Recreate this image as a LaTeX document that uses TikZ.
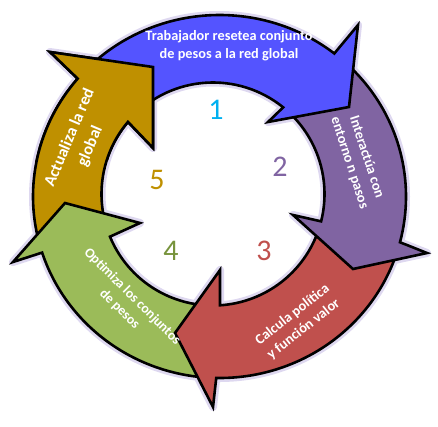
\documentclass[tikz,border=0pt]{standalone}
\usepackage{fontspec}
\setmainfont{Carlito}
\definecolor{cBlue}{RGB}{84,84,255}
\definecolor{cPurple}{RGB}{128,100,162}
\definecolor{cRed}{RGB}{192,80,77}
\definecolor{cGreen}{RGB}{155,187,89}
\definecolor{cGold}{RGB}{191,144,0}
\definecolor{cCyan}{RGB}{0,176,240}
\definecolor{cGreenD}{RGB}{119,147,60}
\definecolor{cGlow}{RGB}{222,216,240}
\newcommand\orx{186.5}
\newcommand\ory{181.5}
\newcommand\irr{111.5}
\newcommand\pathBlue{([shift={(O)}]136:\orx\space and \ory) arc[start angle=136, end angle=52, x radius=\orx, y radius=\ory] -- (358,-25) -- (349,-107) -- (268,-122) -- ([shift={(I)}]51:\irr) arc[start angle=51, end angle=136, radius=\irr] -- cycle}
\newcommand\pathPurple{([shift={(O)}]47:\orx\space and \ory) arc[start angle=47, end angle=-14.6, x radius=\orx, y radius=\ory] -- (427,-253) -- (353,-269) -- (293,-215) -- ([shift={(I)}]-14.2:\irr) arc[start angle=-14.2, end angle=47, radius=\irr] -- cycle}
\newcommand\pathRed{([shift={(O)}]-18.5:\orx\space and \ory) arc[start angle=-18.5, end angle=-91, x radius=\orx, y radius=\ory] -- (213,-407) -- (175,-333) -- (220,-270) -- ([shift={(I)}]-86.4:\irr) arc[start angle=-86.4, end angle=-18.5, radius=\irr] -- cycle}
\newcommand\pathGreen{([shift={(O)}]-93:\orx\space and \ory) arc[start angle=-93, end angle=-162, x radius=\orx, y radius=\ory] -- (13,-262) -- (65,-203) -- (140,-223) -- ([shift={(I)}]-157.5:\irr) arc[start angle=-157.5, end angle=-93, radius=\irr] -- cycle}
\newcommand\pathGold{([shift={(O)}]195:\orx\space and \ory) arc[start angle=195, end angle=139.5, x radius=\orx, y radius=\ory] -- (50,-52) -- (153,-67) -- (153,-148) -- ([shift={(I)}]139.7:\irr) arc[start angle=139.7, end angle=195, radius=\irr] -- cycle}
\begin{document}
\begin{tikzpicture}[x=1pt,y=1pt,
  arrowbody/.style={draw=black, line width=2.6pt, line join=miter, miter limit=8},
  glow/.style={draw=cGlow, line width=8pt, line join=round},
  lbl/.style={text=white, font=\bfseries\fontsize{14.3}{18}\selectfont, align=center, inner sep=0pt},
  num/.style={font=\fontsize{30}{30}\selectfont, inner sep=0pt}]
\useasboundingbox (0,0) rectangle (438,-426);
\coordinate (O) at (219.5,-196.5);
\coordinate (I) at (213,-194);
% soft halo
\path[glow] \pathGold;
\path[glow] \pathGreen;
\path[glow] \pathRed;
\path[glow] \pathPurple;
\path[glow] \pathBlue;
% arrows
\path[arrowbody, fill=cGold] \pathGold;
\path[arrowbody, fill=cGreen] \pathGreen;
\path[arrowbody, fill=cRed] \pathRed;
\path[arrowbody, fill=cPurple] \pathPurple;
\path[arrowbody, fill=cBlue] \pathBlue;
\begin{scope}
  \clip (0,0) rectangle (158,-160);
  \path[arrowbody, fill=cGold] \pathGold;
\end{scope}
% labels
\node[lbl] (t1) at (229,-46) {Trabajador resetea conjunto\\de pesos a la red global};
\node[lbl, rotate=-72] (t2) at (358,-160) {Interactúa con\\entorno n pasos};
\node[lbl, rotate=38] (t3) at (298,-322) {Calcula política\\y función valor};
\node[lbl, rotate=-45, font=\bfseries\fontsize{13.8}{18}\selectfont] (t4) at (126,-303) {Optimiza los conjuntos\\de pesos};
\node[lbl, rotate=67, font=\bfseries\fontsize{16.5}{22}\selectfont] (t5) at (80,-142) {Actualiza la red\\global};
% numbers
\node[num, text=cCyan] (n1) at (216,-110) {1};
\node[num, text=cPurple] (n2) at (280,-167) {2};
\node[num, text=cRed] (n3) at (264,-251) {3};
\node[num, text=cGreenD] (n4) at (171,-251) {4};
\node[num, text=cGold] (n5) at (157,-180) {5};
\end{tikzpicture}
\end{document}
